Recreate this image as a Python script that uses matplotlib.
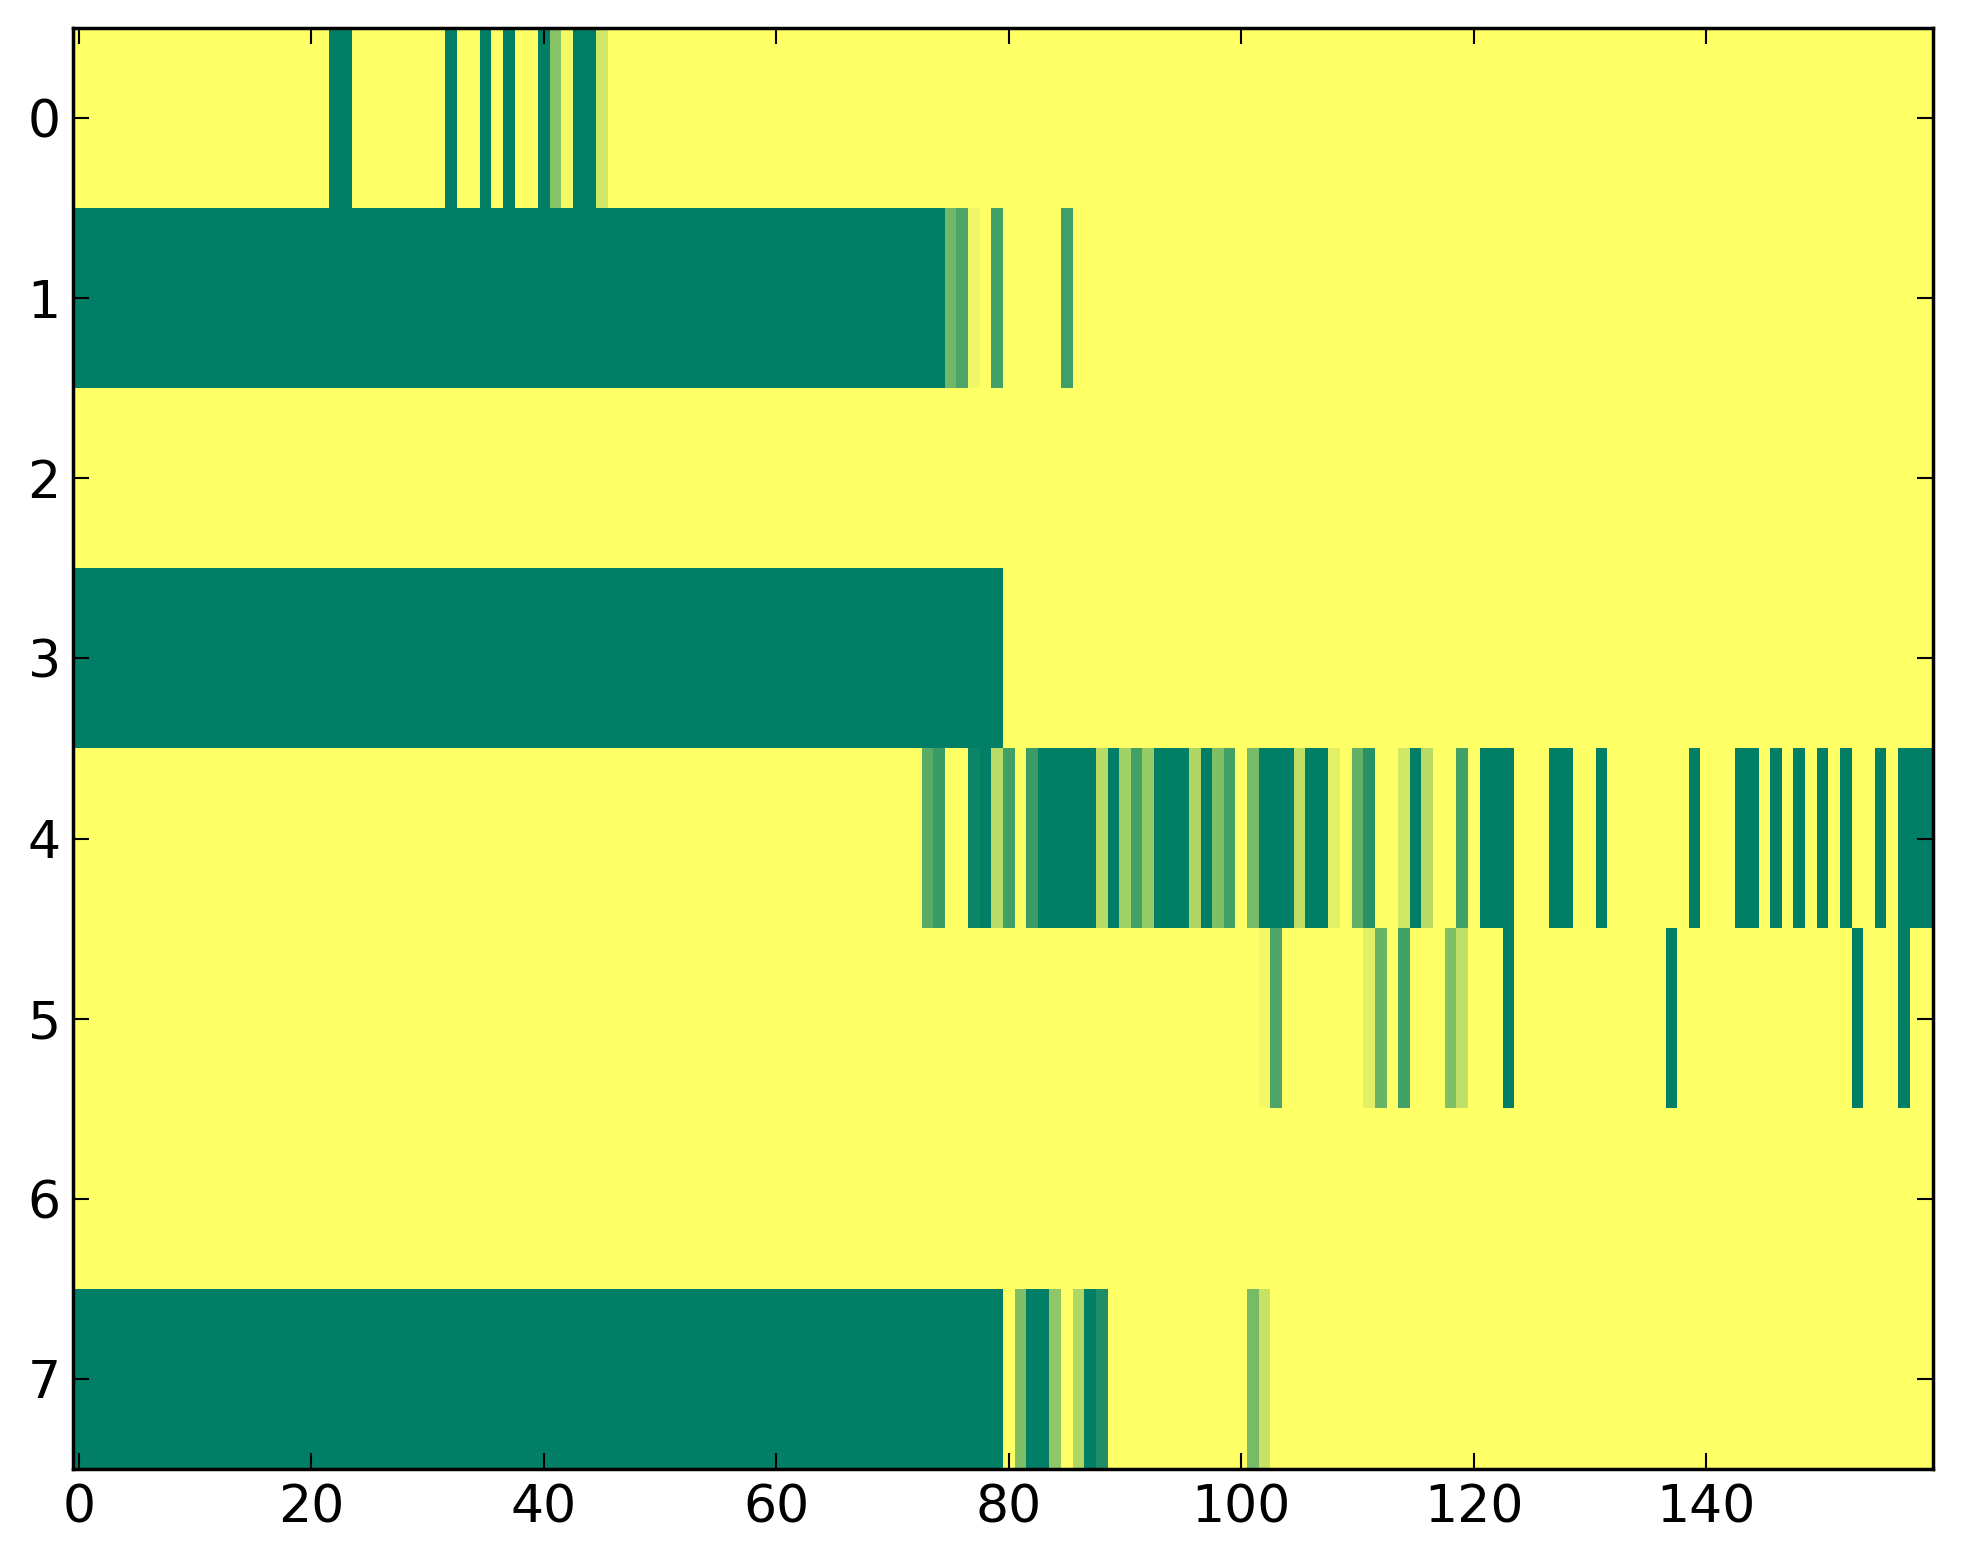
import numpy as np
import matplotlib
matplotlib.use("Agg")
import matplotlib.pyplot as plt

n_rows = 8
n_cols = 160

# Non-zero cells per row: (start_col, stop_col_inclusive, value)
row0 = [(22, 23, 1.0), (32, 32, 1.0), (35, 35, 1.0), (37, 37, 1.0), (40, 40, 1.0),
        (41, 41, 0.47), (42, 42, 0.05), (43, 44, 1.0), (45, 45, 0.18)]
row1 = [(0, 74, 1.0), (75, 75, 0.56), (76, 76, 0.70), (77, 77, 0.06),
        (79, 79, 0.74), (85, 85, 0.75)]
row2 = []
row3 = [(0, 79, 1.0)]
row4 = [(73, 73, 0.65), (74, 74, 0.77), (77, 77, 0.95), (78, 78, 1.0), (79, 79, 0.27),
        (80, 80, 0.74), (82, 82, 0.77), (83, 87, 1.0), (88, 88, 0.28), (89, 89, 1.0),
        (90, 90, 0.37), (91, 91, 0.74), (92, 92, 0.41), (93, 95, 1.0), (96, 96, 0.31),
        (97, 97, 1.0), (98, 98, 0.50), (99, 99, 0.74), (101, 101, 0.53), (102, 104, 1.0),
        (105, 105, 0.25), (106, 107, 1.0), (108, 108, 0.12), (110, 110, 0.62),
        (111, 111, 0.85), (114, 114, 0.18), (115, 115, 1.0), (116, 116, 0.28),
        (119, 119, 0.74), (121, 123, 1.0), (127, 128, 1.0), (131, 131, 1.0),
        (139, 139, 1.0), (143, 144, 1.0), (146, 146, 1.0), (148, 148, 1.0),
        (150, 150, 1.0), (152, 152, 1.0), (155, 155, 1.0), (157, 159, 1.0)]
row5 = [(102, 102, 0.05), (103, 103, 0.70), (111, 111, 0.12), (112, 112, 0.59),
        (114, 114, 0.74), (118, 118, 0.50), (119, 119, 0.25), (123, 123, 1.0),
        (137, 137, 1.0), (153, 153, 1.0), (157, 157, 1.0)]
row6 = []
row7 = [(0, 79, 1.0), (81, 81, 0.50), (82, 83, 1.0), (84, 84, 0.44), (86, 86, 0.31),
        (87, 87, 1.0), (88, 88, 0.88), (101, 101, 0.53), (102, 102, 0.22)]

rows = [row0, row1, row2, row3, row4, row5, row6, row7]

x_ticks = [0, 20, 40, 60, 80, 100, 120, 140]
y_ticks = [0, 1, 2, 3, 4, 5, 6, 7]

data = np.zeros((n_rows, n_cols))
for r, spans in enumerate(rows):
    for start, stop, val in spans:
        data[r, start:stop + 1] = val

fig = plt.figure(figsize=(7.852, 6.256), dpi=250)
ax = fig.add_axes([73 / 1963, 1 - 1469 / 1564, (1933 - 73) / 1963, (1469 - 28) / 1564])
ax.imshow(data, cmap="summer_r", vmin=0, vmax=1, aspect="auto", interpolation="nearest")
ax.set_xlim(-0.5, n_cols - 0.5)
ax.set_ylim(n_rows - 0.5, -0.5)
ax.set_xticks(x_ticks)
ax.set_yticks(y_ticks)
ax.tick_params(direction="in", top=True, right=True, length=4.6, width=0.6,
               labelsize=15)
ax.tick_params(axis="x", pad=4.2)
ax.tick_params(axis="y", pad=3.5)
for s in ax.spines.values():
    s.set_linewidth(1.0)

fig.savefig("out.png", dpi=250)
